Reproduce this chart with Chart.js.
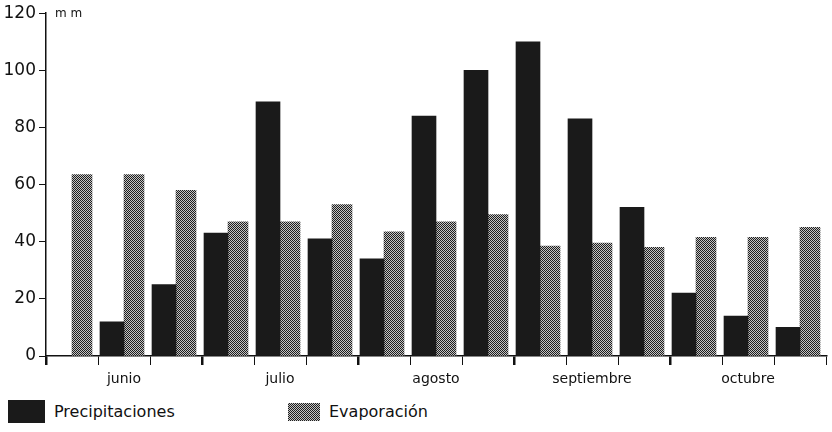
<!DOCTYPE html>
<html>
<head>
<meta charset="utf-8">
<script src="https://cdn.jsdelivr.net/npm/chart.js@4"></script>
<style>
  body { margin: 0; background: #fff; width: 832px; height: 432px; overflow: hidden; position: relative; font-family: "DejaVu Sans", sans-serif; }
  #wrap { position: absolute; left: 0; top: 0; width: 832px; height: 396px; }
  .leg { position: absolute; top: 400px; display: flex; align-items: center; font-size: 16px; color: #111; }
  .sw { display: inline-block; margin-right: 9px; }
  #sw1 { width: 37px; height: 23px; background: #1a1a1a; }
  #sw2 { width: 32px; height: 18px; background: repeating-conic-gradient(#1e1e1e 0 25%, #c4c4c4 0 50%) 0 0/2px 2px; }
</style>
</head>
<body>
<div id="wrap"><canvas id="grafico"></canvas></div>
<div class="leg" style="left:8px"><span class="sw" id="sw1"></span>Precipitaciones</div>
<div class="leg" style="left:288px;top:402px"><span class="sw" id="sw2"></span>Evaporación</div>
<script>
// meses y decenas (3 por mes)
const meses = ['junio', 'julio', 'agosto', 'septiembre', 'octubre'];
const decenas = ['jun-1', 'jun-2', 'jun-3', 'jul-1', 'jul-2', 'jul-3', 'ago-1', 'ago-2', 'ago-3',
                 'sep-1', 'sep-2', 'sep-3', 'oct-1', 'oct-2', 'oct-3'];
const precipitaciones = [0, 12, 25, 43, 89, 41, 34, 84, 100, 110, 83, 52, 22, 14, 10];
const evaporacion = [63.5, 63.5, 58, 47, 47, 53, 43.5, 47, 49.5, 38.5, 39.5, 38, 41.5, 41.5, 45];
const yTicks = [0, 20, 40, 60, 80, 100, 120];

// trama punteada para la evaporacion
const pc = document.createElement('canvas');
pc.width = 2; pc.height = 2;
const pctx = pc.getContext('2d');
pctx.fillStyle = '#c4c4c4'; pctx.fillRect(0, 0, 2, 2);
pctx.fillStyle = '#1e1e1e'; pctx.fillRect(0, 0, 1, 1); pctx.fillRect(1, 1, 1, 1);
const trama = pctx.createPattern(pc, 'repeat');

const unidad = {
  id: 'unidad',
  afterDraw(chart) {
    const ctx = chart.ctx;
    const y = chart.scales.y.getPixelForValue(120);
    ctx.save();
    ctx.fillStyle = '#111';
    ctx.font = '12px "DejaVu Sans"';
    ctx.textBaseline = 'middle';
    ctx.fillText('m m', chart.chartArea.left + 9, y + 1);
    ctx.restore();
  }
};

new Chart(document.getElementById('grafico'), {
  type: 'bar',
  data: {
    labels: decenas,
    datasets: [{
        label: 'Precipitaciones',
        data: precipitaciones,
        backgroundColor: '#1a1a1a',
        barThickness: 24
      }, {
        label: 'Evaporación',
        data: evaporacion,
        backgroundColor: trama,
        barThickness: 20
      }
    ]
  },
  options: {
    responsive: true,
    maintainAspectRatio: false,
    animation: false,
    layout: { padding: { top: 7, right: 6, left: 0, bottom: 0 } },
    plugins: {
      legend: { display: false },
      tooltip: { enabled: false }
    },
    scales: {
      x: {
        offset: true,
        afterFit: s => { s.height = 40; },
        border: { color: '#111', width: 1.5 },
        grid: {
          offset: true,
          drawOnChartArea: false,
          tickLength: 9,
          color: '#111',
          lineWidth: c => (c.index % 3 === 0 ? 2.5 : 1)
        },
        ticks: {
          autoSkip: false,
          maxRotation: 0,
          padding: 6,
          color: '#111',
          font: { family: 'DejaVu Sans', size: 14 },
          callback: (v, i) => (i % 3 === 1 ? meses[(i - 1) / 3] : '')
        }
      },
      y: {
        min: 0,
        max: 120,
        afterFit: s => { s.width = 46; },
        afterBuildTicks: s => { s.ticks = yTicks.map(v => ({ value: v })); },
        border: { color: '#111', width: 1.5 },
        grid: { drawOnChartArea: false, tickLength: 7, color: '#111' },
        ticks: {
          padding: 3,
          color: '#111',
          font: { family: 'DejaVu Sans', size: 17 }
        }
      }
    }
  },
  plugins: [unidad]
});
</script>
</body>
</html>
